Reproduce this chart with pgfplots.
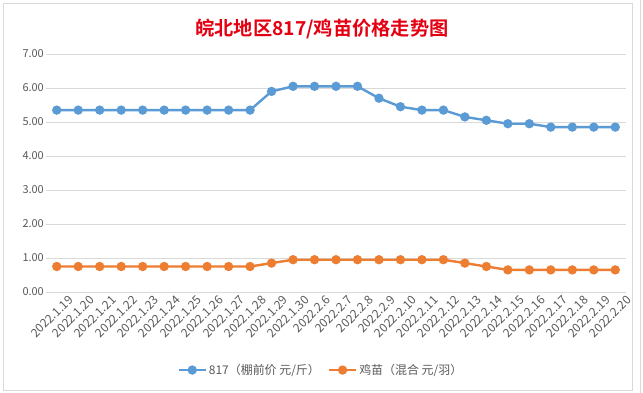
\documentclass[border=0pt]{standalone}
\usepackage{fontspec}
\setmainfont{Noto Sans CJK SC}
\newfontfamily\titlefont{Noto Sans CJK SC Bold}
\usepackage{pgfplots}
\pgfplotsset{compat=1.18}
\definecolor{sblue}{HTML}{5B9BD5}
\definecolor{sorange}{HTML}{ED7D31}
\definecolor{gridc}{HTML}{D9D9D9}
\definecolor{txt}{HTML}{595959}
\definecolor{tred}{RGB}{228,0,18}
\begin{document}
\begin{tikzpicture}
\useasboundingbox (0bp,0bp) rectangle (643bp,-393bp);
\fill[white] (0bp,0bp) rectangle (643bp,-393bp);
\draw[draw=gridc, line width=0.6bp] (640bp,0bp) -- (640bp,-393bp);
\draw[draw=gridc, line width=0.8bp] (3bp,-3bp) rectangle (632bp,-390bp);
\node[font=\titlefont\fontsize{19.3}{22}\selectfont, text=tred] at (322bp,-29bp) {皖北地区817/鸡苗价格走势图};
\begin{axis}[
  at={(46bp,-292bp)}, anchor=south west,
  scale only axis, width=580bp, height=238bp,
  xmin=-0.5, xmax=26.5, ymin=0, ymax=7,
  ytick={0,1,...,7},
  xtick={0,1,...,26},
  xticklabels={2022.1.19,2022.1.20,2022.1.21,2022.1.22,2022.1.23,2022.1.24,2022.1.25,2022.1.26,2022.1.27,2022.1.28,2022.1.29,2022.1.30,2022.2.6,2022.2.7,2022.2.8,2022.2.9,2022.2.10,2022.2.11,2022.2.12,2022.2.13,2022.2.14,2022.2.15,2022.2.16,2022.2.17,2022.2.18,2022.2.19,2022.2.20},
  yticklabel style={/pgf/number format/fixed, /pgf/number format/fixed zerofill, /pgf/number format/precision=2, inner sep=2bp, font=\fontsize{11}{12}\selectfont},
  /pgf/number format/assume math mode=true,
  ticklabel style={text=txt},
  xticklabel style={rotate=45, anchor=east, inner sep=1bp, xshift=7bp, yshift=-14bp, font=\fontsize{12}{13}\selectfont},
  major tick length=0pt,
  ymajorgrids, major grid style={draw=gridc, line width=0.8bp},
  axis x line*=bottom, axis y line*=left,
  x axis line style={draw=gridc, line width=0.8bp, -},
  y axis line style={draw=none},
  legend style={at={(0.474,-0.328)}, anchor=center, draw=none, fill=none,
    font=\fontsize{12}{13}\selectfont, text=txt,
    /tikz/every even column/.append style={column sep=6bp}},
  legend columns=2,
  legend image code/.code={\draw[mark repeat=2, mark phase=2, #1] plot coordinates {(0bp,0bp) (13.5bp,0bp) (27bp,0bp)};},
]
\addplot[color=sblue, line width=2.4bp, mark=*, mark size=3.4bp, mark options={solid}] coordinates {
(0,5.35) (1,5.35) (2,5.35) (3,5.35) (4,5.35) (5,5.35) (6,5.35) (7,5.35) (8,5.35) (9,5.35)
(10,5.9) (11,6.05) (12,6.05) (13,6.05) (14,6.05) (15,5.7) (16,5.45) (17,5.35) (18,5.35)
(19,5.15) (20,5.05) (21,4.95) (22,4.95) (23,4.85) (24,4.85) (25,4.85) (26,4.85)};
\addlegendentry{817（棚前价 元/斤）}
\addplot[color=sorange, line width=2.4bp, mark=*, mark size=3.4bp, mark options={solid}] coordinates {
(0,0.75) (1,0.75) (2,0.75) (3,0.75) (4,0.75) (5,0.75) (6,0.75) (7,0.75) (8,0.75) (9,0.75)
(10,0.85) (11,0.95) (12,0.95) (13,0.95) (14,0.95) (15,0.95) (16,0.95) (17,0.95) (18,0.95)
(19,0.85) (20,0.75) (21,0.65) (22,0.65) (23,0.65) (24,0.65) (25,0.65) (26,0.65)};
\addlegendentry{鸡苗（混合 元/羽）}
\end{axis}
\end{tikzpicture}
\end{document}
